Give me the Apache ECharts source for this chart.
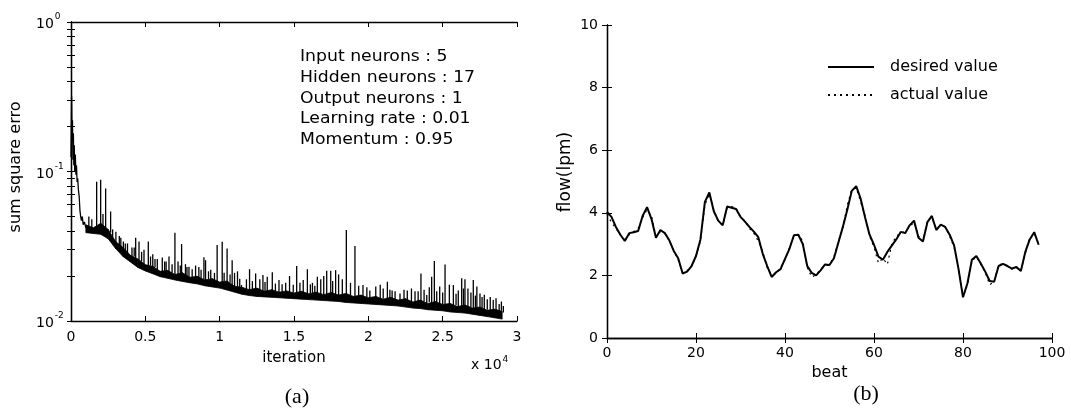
<!DOCTYPE html>
<html>
<head>
<meta charset="utf-8">
<script src="https://cdn.jsdelivr.net/npm/echarts@6/dist/echarts.min.js"></script>
<style>
  html, body { margin: 0; padding: 0; background: #fff; }
  #chart { width: 1071px; height: 412px; }
</style>
</head>
<body>
<div id="chart"></div>
<script>
// (a) 学习误差曲线，读图估计
const earlyIter = [0, 40, 70, 100, 130, 160, 190, 220, 250, 290, 330, 370, 410, 450, 500, 550, 600, 650, 700, 760, 820, 900, 1000]
const earlyErr = [0.125, 0.32, 0.16, 0.22, 0.12, 0.18, 0.11, 0.15, 0.1, 0.13, 0.095, 0.11, 0.085, 0.09, 0.075, 0.068, 0.055, 0.05, 0.047, 0.05, 0.044, 0.046, 0.042]

// 粗黑带的上下包络（上沿参差）
const bandIter = [1000, 1500, 2000, 2500, 3000, 3500, 4000, 4500, 5000, 5500, 6000, 6500, 7000, 7500, 8000, 8500, 9000, 9500, 10000, 10500, 11000, 11500, 12000, 12500, 13000, 13500, 14000, 14500, 15000, 15500, 16000, 16500, 17000, 17500, 18000, 18500, 19000, 19500, 20000, 20500, 21000, 21500, 22000, 22500, 23000, 23500, 24000, 24500, 25000, 25500, 26000, 26500, 27000, 27500, 28000, 28500, 29000]
const bandLow = [0.039, 0.0385, 0.038, 0.0355, 0.0305, 0.027, 0.0248, 0.0228, 0.0216, 0.0207, 0.0198, 0.0193, 0.0188, 0.0184, 0.018, 0.0177, 0.0172, 0.0169, 0.0166, 0.0161, 0.0156, 0.0151, 0.0148, 0.0146, 0.0145, 0.0144, 0.0143, 0.0142, 0.0141, 0.014, 0.0139, 0.0138, 0.0137, 0.0136, 0.0135, 0.0133, 0.0132, 0.0131, 0.013, 0.0129, 0.0128, 0.0127, 0.0126, 0.0124, 0.0122, 0.0121, 0.0119, 0.0118, 0.0117, 0.0115, 0.0114, 0.0113, 0.0111, 0.0109, 0.0107, 0.0105, 0.0103]
const bandHigh = [0.044, 0.042, 0.045, 0.041, 0.034, 0.031, 0.0275, 0.026, 0.0238, 0.0232, 0.0215, 0.0218, 0.0205, 0.021, 0.0196, 0.0199, 0.0188, 0.0192, 0.0182, 0.0185, 0.0171, 0.0168, 0.0162, 0.0166, 0.0158, 0.0162, 0.0156, 0.0159, 0.0154, 0.0158, 0.0152, 0.0156, 0.015, 0.0155, 0.0149, 0.0153, 0.0146, 0.0149, 0.0143, 0.0146, 0.014, 0.0144, 0.0138, 0.0141, 0.0134, 0.0138, 0.0131, 0.0135, 0.0129, 0.0131, 0.0125, 0.0128, 0.0122, 0.0124, 0.0118, 0.012, 0.0116]

// 尖峰：位置、起点、峰值
const spikeIter = [1200, 1400, 1725, 1995, 2150, 2330, 2665, 3020, 3250, 3520, 3800, 4100, 4350, 4575, 4910, 5200, 5500, 5805, 6140, 6400, 6590, 6990, 7200, 7440, 7700, 7935, 8380, 8600, 8940, 9050, 9400, 9830, 10170, 10500, 10840, 11000, 11200, 11470, 12010, 12420, 12700, 12910, 13200, 13540, 13990, 14440, 14700, 15180, 15620, 15900, 16240, 16570, 16800, 17000, 17200, 17470, 17800, 18000, 18520, 19100, 19640, 20100, 20500, 20800, 21280, 21600, 22130, 22620, 22900, 23140, 23540, 23930, 24260, 24440, 24800, 25160, 25450, 25720, 26050, 26280, 26500, 26700, 27060, 27300, 27510, 27800, 28200, 28590, 28800, 29080]
const spikeBase = [0.043, 0.041, 0.042, 0.043, 0.043, 0.041, 0.039, 0.033, 0.031, 0.029, 0.027, 0.026, 0.025, 0.025, 0.024, 0.023, 0.0225, 0.022, 0.021, 0.021, 0.021, 0.0202, 0.02, 0.02, 0.0198, 0.0195, 0.019, 0.0188, 0.0185, 0.0185, 0.0183, 0.018, 0.0178, 0.0175, 0.017, 0.0168, 0.0166, 0.0163, 0.016, 0.0158, 0.0157, 0.0156, 0.0155, 0.0154, 0.0153, 0.0152, 0.0152, 0.0151, 0.015, 0.015, 0.0149, 0.0148, 0.0148, 0.0147, 0.0147, 0.0146, 0.0146, 0.0145, 0.0145, 0.0143, 0.0143, 0.0141, 0.014, 0.0139, 0.0138, 0.0137, 0.0136, 0.0135, 0.0134, 0.0133, 0.0133, 0.0132, 0.0131, 0.0131, 0.0129, 0.0127, 0.0126, 0.0125, 0.0124, 0.0123, 0.0122, 0.0122, 0.0121, 0.012, 0.0119, 0.0118, 0.0117, 0.0116, 0.0115, 0.0114]
const spikePeak = [0.05, 0.048, 0.0855, 0.088, 0.052, 0.077, 0.054, 0.0395, 0.037, 0.034, 0.033, 0.031, 0.036, 0.034, 0.03, 0.034, 0.028, 0.026, 0.0266, 0.025, 0.027, 0.039, 0.025, 0.0327, 0.024, 0.0231, 0.0235, 0.023, 0.0267, 0.0255, 0.022, 0.0322, 0.0339, 0.0306, 0.0255, 0.021, 0.0215, 0.0174, 0.0222, 0.0208, 0.019, 0.0203, 0.0198, 0.0212, 0.0188, 0.018, 0.02, 0.0233, 0.0188, 0.0222, 0.018, 0.0198, 0.019, 0.02, 0.0217, 0.0217, 0.0219, 0.0205, 0.0406, 0.0318, 0.0174, 0.016, 0.017, 0.0175, 0.0183, 0.016, 0.0153, 0.016, 0.0165, 0.0158, 0.0208, 0.0149, 0.0198, 0.0252, 0.017, 0.0239, 0.0175, 0.0174, 0.016, 0.0193, 0.019, 0.0165, 0.0188, 0.017, 0.0153, 0.015, 0.0145, 0.0142, 0.013, 0.0126]

// 带上沿的小毛刺
const jitterIter = [2800, 3350, 3650, 4250, 4750, 5350, 5650, 6300, 6800, 7350, 7800, 8150, 8750, 9250, 9650, 10300, 10700, 11350, 11800, 12200, 13050, 13750, 14200, 14950, 15400, 16100, 16400, 17600, 18250, 18800, 19350, 19900, 21000, 21450, 21800, 22400, 23350, 23750, 24100, 24600, 25000, 25900, 26400, 26900, 27200, 27650, 28000, 28400, 28950]
const jitterBase = [0.036, 0.031, 0.029, 0.027, 0.025, 0.0235, 0.023, 0.0215, 0.021, 0.0205, 0.02, 0.0196, 0.0193, 0.019, 0.0188, 0.0184, 0.018, 0.0168, 0.0164, 0.0163, 0.0159, 0.0158, 0.0157, 0.0155, 0.0155, 0.0153, 0.0153, 0.0152, 0.015, 0.0149, 0.0148, 0.0145, 0.0141, 0.014, 0.014, 0.0139, 0.0136, 0.0135, 0.0134, 0.0133, 0.013, 0.0128, 0.0127, 0.0124, 0.0123, 0.0122, 0.0119, 0.0119, 0.0117]
const jitterPeak = [0.041, 0.036, 0.033, 0.031, 0.029, 0.027, 0.026, 0.025, 0.024, 0.0235, 0.023, 0.0222, 0.022, 0.0215, 0.021, 0.021, 0.0205, 0.0192, 0.019, 0.0185, 0.0182, 0.0178, 0.0176, 0.0175, 0.018, 0.0176, 0.0172, 0.0185, 0.019, 0.018, 0.0172, 0.0168, 0.0165, 0.0162, 0.0158, 0.0162, 0.0158, 0.0162, 0.0168, 0.0158, 0.0155, 0.0152, 0.0165, 0.0155, 0.0148, 0.0145, 0.014, 0.0138, 0.0135]

const iterLabels = ['0', '0.5', '1', '1.5', '2', '2.5', '3']
// 对数轴刻度（含次刻度）
const errTicks = [0.01, 0.02, 0.03, 0.04, 0.05, 0.06, 0.07, 0.08, 0.09, 0.1, 0.2, 0.3, 0.4, 0.5, 0.6, 0.7, 0.8, 0.9, 1]
const errLabelTicks = [0.01, 0.1, 1]

// (b) 流量：期望值与实际值（beat 0~97）
const desired = [4.03, 3.87, 3.55, 3.3, 3.1, 3.35, 3.38, 3.42, 3.9, 4.18, 3.8, 3.2, 3.45, 3.35, 3.12, 2.78, 2.55, 2.06, 2.12, 2.3, 2.62, 3.15, 4.35, 4.65, 4.05, 3.75, 3.6, 4.2, 4.16, 4.12, 3.87, 3.72, 3.55, 3.4, 3.22, 2.69, 2.3, 1.95, 2.1, 2.2, 2.53, 2.85, 3.28, 3.3, 3.0, 2.3, 2.08, 2.0, 2.16, 2.35, 2.33, 2.55, 3.05, 3.55, 4.1, 4.7, 4.85, 4.45, 3.85, 3.3, 2.98, 2.6, 2.5, 2.75, 2.95, 3.15, 3.39, 3.35, 3.6, 3.75, 3.2, 3.08, 3.7, 3.9, 3.45, 3.62, 3.55, 3.3, 2.96, 2.2, 1.3, 1.75, 2.5, 2.62, 2.38, 2.12, 1.82, 1.8, 2.3, 2.37, 2.3, 2.22, 2.27, 2.14, 2.75, 3.15, 3.38, 2.98]
const actual = [3.95, 3.7, 3.5, 3.3, 3.15, 3.3, 3.4, 3.5, 3.85, 4.1, 3.9, 3.25, 3.4, 3.35, 3.1, 2.8, 2.5, 2.1, 2.15, 2.3, 2.6, 3.1, 4.25, 4.6, 4.1, 3.7, 3.62, 4.15, 4.2, 4.15, 3.85, 3.75, 3.5, 3.35, 3.1, 2.75, 2.25, 2.0, 2.05, 2.25, 2.5, 2.9, 3.25, 3.3, 3.1, 2.25, 1.95, 2.02, 2.2, 2.3, 2.35, 2.6, 3.1, 3.5, 4.25, 4.75, 4.8, 4.35, 3.9, 3.25, 2.9, 2.4, 2.55, 2.35, 3.0, 3.25, 3.35, 3.4, 3.55, 3.7, 3.25, 3.1, 3.75, 3.85, 3.5, 3.6, 3.55, 3.25, 2.9, 2.25, 1.3, 1.7, 2.45, 2.6, 2.35, 2.1, 1.7, 1.8, 2.35, 2.35, 2.3, 2.2, 2.25, 2.15, 2.7, 3.2, 3.35, 3.0]

const FONT = 'DejaVu Sans'
const black = '#000'

let chart = echarts.init(document.getElementById('chart'))

// 坐标轴公共样式
const lineStyle = { lineStyle: { color: black, width: 1.3 } }
function mirrorAxis (gridIndex, position, extra) {
  return Object.assign({
    gridIndex: gridIndex,
    position: position,
    axisLine: lineStyle,
    axisTick: { inside: true, length: 5, lineStyle: { color: black } },
    axisLabel: { show: false },
    splitLine: { show: false }
  }, extra)
}
const logTick = { inside: true, length: 4, customValues: errTicks, lineStyle: { color: black } }
const logLabel = {
  color: black,
  align: 'left',
  margin: 35,
  customValues: errLabelTicks,
  formatter: function (v) {
    return '{b|10}{s|' + Math.round(Math.log10(v)) + '}'
  },
  rich: {
    b: { fontSize: 14, fontFamily: FONT, color: black, verticalAlign: 'bottom' },
    s: { fontSize: 9, fontFamily: FONT, color: black, verticalAlign: 'top', padding: [0, 0, 10, 1] }
  }
}
function spikeItem (params, api) {
  const p1 = api.coord([api.value(0), api.value(1)])
  const p2 = api.coord([api.value(0), api.value(2)])
  return {
    type: 'line',
    shape: { x1: p1[0], y1: p1[1], x2: p2[0], y2: p2[1] },
    style: { stroke: black, lineWidth: 1.3 }
  }
}

let option = {
  animation: false,
  backgroundColor: '#fff',
  grid: [
    { left: 71, top: 22, width: 446, height: 299 },
    { left: 607, top: 25, width: 445, height: 313 }
  ],
  legend: {
    data: ['desired value', 'actual value'],
    orient: 'vertical',
    left: 822,
    top: 54,
    itemWidth: 46,
    itemHeight: 14,
    itemGap: 12,
    itemStyle: { opacity: 0 },
    formatter: function (name) { return '{t|' + name + '}' },
    textStyle: {
      color: black,
      rich: { t: { fontSize: 16, fontFamily: FONT, color: black, padding: [0, 0, 0, 11] } }
    }
  },
  xAxis: [
    mirrorAxis(0, 'bottom', {
      type: 'value', min: 0, max: 30000, interval: 5000,
      axisLabel: {
        color: black, fontSize: 14, fontFamily: FONT, margin: 9,
        formatter: function (v) { return iterLabels[Math.round(v / 5000)] }
      },
      name: 'iteration', nameLocation: 'middle', nameGap: 30,
      nameTextStyle: { color: black, fontSize: 15, fontFamily: FONT }
    }),
    mirrorAxis(0, 'top', { type: 'value', min: 0, max: 30000, interval: 5000 }),
    mirrorAxis(1, 'bottom', {
      type: 'value', min: 0, max: 100, interval: 20,
      axisLabel: { color: black, fontSize: 14, fontFamily: FONT, margin: 8 },
      name: 'beat', nameLocation: 'middle', nameGap: 23,
      nameTextStyle: { color: black, fontSize: 16, fontFamily: FONT }
    }),
    mirrorAxis(1, 'top', { type: 'value', min: 0, max: 100, interval: 20 })
  ],
  yAxis: [
    mirrorAxis(0, 'left', { type: 'log', logBase: 10, min: 0.01, max: 1, axisTick: logTick, axisLabel: logLabel }),
    mirrorAxis(0, 'right', { type: 'log', logBase: 10, min: 0.01, max: 1, axisTick: logTick }),
    mirrorAxis(1, 'left', {
      type: 'value', min: 0, max: 10, interval: 2,
      axisLabel: { color: black, fontSize: 14, fontFamily: FONT, margin: 9 }
    }),
    mirrorAxis(1, 'right', { type: 'value', min: 0, max: 10, interval: 2 })
  ],
  series: [
    {
      // 噪声带
      type: 'custom',
      xAxisIndex: 0,
      yAxisIndex: 0,
      encode: { x: 0, y: [1, 2] },
      data: bandIter.map((x, i) => [x, bandLow[i], bandHigh[i]]),
      renderItem: function (params, api) {
        const i = params.dataIndex
        if (i >= bandIter.length - 1) return
        const pts = [
          api.coord([bandIter[i], bandHigh[i]]),
          api.coord([bandIter[i + 1], bandHigh[i + 1]]),
          api.coord([bandIter[i + 1], bandLow[i + 1]]),
          api.coord([bandIter[i], bandLow[i]])
        ]
        return {
          type: 'polygon',
          shape: { points: pts },
          style: { fill: black, stroke: black, lineWidth: 0.8 }
        }
      }
    },
    {
      type: 'custom',
      xAxisIndex: 0,
      yAxisIndex: 0,
      encode: { x: 0, y: [1, 2] },
      data: spikeIter.map((x, i) => [x, spikeBase[i], spikePeak[i]]),
      renderItem: spikeItem
    },
    {
      type: 'custom',
      xAxisIndex: 0,
      yAxisIndex: 0,
      encode: { x: 0, y: [1, 2] },
      data: jitterIter.map((x, i) => [x, jitterBase[i], jitterPeak[i]]),
      renderItem: spikeItem
    },
    {
      type: 'line',
      xAxisIndex: 0,
      yAxisIndex: 0,
      symbol: 'none',
      data: earlyIter.map((x, i) => [x, earlyErr[i]]),
      lineStyle: { color: black, width: 1.3 }
    },
    {
      name: 'desired value',
      type: 'line',
      xAxisIndex: 2,
      yAxisIndex: 2,
      symbol: 'none',
      data: desired.map((v, i) => [i, v]),
      itemStyle: { color: black },
      lineStyle: { color: black, width: 2 }
    },
    {
      name: 'actual value',
      type: 'line',
      xAxisIndex: 2,
      yAxisIndex: 2,
      symbol: 'none',
      data: actual.map((v, i) => [i, v]),
      itemStyle: { color: black },
      lineStyle: { color: black, width: 1.2, type: [2, 4] }
    }
  ],
  graphic: [
    { type: 'text', x: 16, y: 167, rotation: Math.PI / 2,
      style: { text: 'sum square erro', fontSize: 16, fontFamily: FONT, fill: black, align: 'center', verticalAlign: 'middle' } },
    { type: 'text', x: 566, y: 172, rotation: Math.PI / 2,
      style: { text: 'flow(lpm)', fontSize: 17, fontFamily: FONT, fill: black, align: 'center', verticalAlign: 'middle' } },
    { type: 'text', x: 300, y: 57, scaleX: 1.15,
      style: { text: 'Input neurons : 5', fontSize: 15, fontFamily: FONT, fill: black, align: 'left', verticalAlign: 'middle' } },
    { type: 'text', x: 300, y: 78, scaleX: 1.15,
      style: { text: 'Hidden neurons : 17', fontSize: 15, fontFamily: FONT, fill: black, align: 'left', verticalAlign: 'middle' } },
    { type: 'text', x: 300, y: 99, scaleX: 1.15,
      style: { text: 'Output neurons : 1', fontSize: 15, fontFamily: FONT, fill: black, align: 'left', verticalAlign: 'middle' } },
    { type: 'text', x: 300, y: 119, scaleX: 1.15,
      style: { text: 'Learning rate : 0.01', fontSize: 15, fontFamily: FONT, fill: black, align: 'left', verticalAlign: 'middle' } },
    { type: 'text', x: 300, y: 140, scaleX: 1.15,
      style: { text: 'Momentum : 0.95', fontSize: 15, fontFamily: FONT, fill: black, align: 'left', verticalAlign: 'middle' } },
    { type: 'text', x: 471, y: 365,
      style: {
        text: 'x 10{s|4}', fontSize: 14, fontFamily: FONT, fill: black, align: 'left', verticalAlign: 'middle',
        rich: { s: { fontSize: 9, fontFamily: FONT, fill: black, verticalAlign: 'top', padding: [0, 0, 10, 1] } }
      } },
    { type: 'text', x: 297, y: 397,
      style: { text: '(a)', fontSize: 22, fontFamily: 'Liberation Serif', fill: black, align: 'center', verticalAlign: 'middle' } },
    { type: 'text', x: 866, y: 394,
      style: { text: '(b)', fontSize: 22, fontFamily: 'Liberation Serif', fill: black, align: 'center', verticalAlign: 'middle' } }
  ]
}
chart.setOption(option, true)
</script>
</body>
</html>
